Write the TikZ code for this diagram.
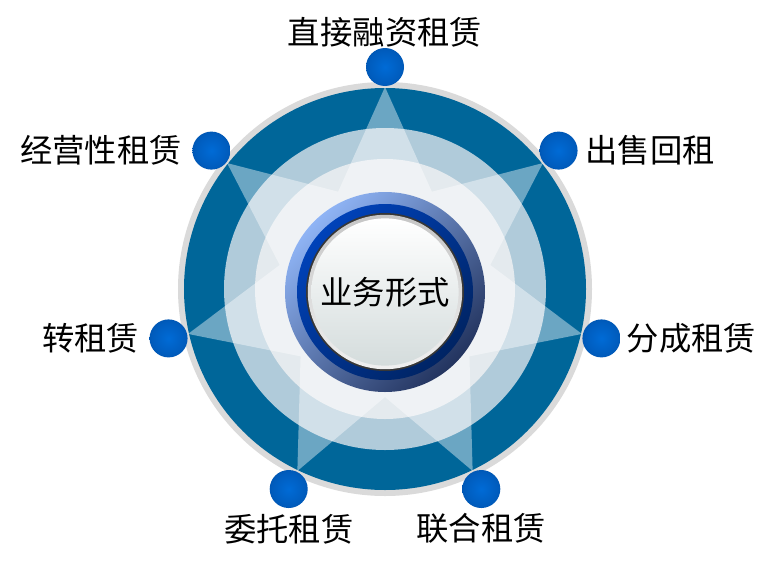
\documentclass[tikz,border=0pt]{standalone}
\usepackage{fontspec}
\newfontfamily\cjk{Noto Sans CJK SC}
\usepackage{tikz}
\usetikzlibrary{positioning, shadings}
\definecolor{ringgrey}{RGB}{218,218,218}
\definecolor{ringdark}{RGB}{0,102,153}
\definecolor{ringmid}{RGB}{176,203,218}
\definecolor{ringlight}{RGB}{228,234,238}
\definecolor{knoblight}{RGB}{143,180,245}
\definecolor{knobmid}{RGB}{40,88,210}
\definecolor{knobdark}{RGB}{35,52,95}
\definecolor{knobinner}{RGB}{0,66,185}
\definecolor{knobinnerdark}{RGB}{0,36,100}
\definecolor{rimdark}{RGB}{55,55,55}
\definecolor{buttonlow}{RGB}{212,220,220}
\pgfdeclareradialshading{dotglow}{\pgfpoint{0bp}{0bp}}{rgb(0bp)=(0,0.42,0.84); rgb(22bp)=(0,0.36,0.74); rgb(50bp)=(0,0.22,0.50)}

\tikzset{
  dotball/.style={circle, minimum size=0.95cm, inner sep=0pt, shading=dotglow},
  leaselabel/.style={inner sep=0pt, font=\cjk\fontsize{23}{27}\selectfont},
}

\begin{document}
\begin{tikzpicture}
        % Canvas
        \fill[white] (-9.625,-7.0) rectangle (9.725,7.225);
        \useasboundingbox (-9.625,-7.0) rectangle (9.725,7.225);

        % Rings
        \fill[ringgrey] (0,0) circle (5.175);
        \fill[ringdark] (0,0) circle (5.025);
        \fill[ringmid] (0,0) circle (4.025);
        \fill[ringlight] (0,0) circle (3.25);

        % Seven-pointed star
        \fill[white, opacity=0.42] (90:5.05) \foreach \k in {1,...,7} { -- ({90+(\k-0.5)*360/7}:2.7) -- ({90+\k*360/7}:5.05) } -- cycle;

        % Center knob
        \shade[top color=knoblight, middle color=knobmid, bottom color=knobdark, shading angle=45] (0,-0.075) circle (2.5);
        \shade[top color=knobinner, bottom color=knobinnerdark, shading angle=45] (0,-0.075) circle (2.2);
        \fill[rimdark] (0,-0.075) circle (1.975);
        \shade[top color=gray!45, bottom color=gray!12] (0,-0.075) circle (1.93);
        \shade[top color=white, bottom color=buttonlow] (0,-0.075) circle (1.84);
        \node[leaselabel] (yewu) at (0,-0.075) {业务形式};

        % Dots on the star tips
        \node[dotball] (zhijie) at (90:5.55) {};
        \node[dotball] (shouhou) at (38.57:5.55) {};
        \node[dotball] (fencheng) at (-12.86:5.55) {};
        \node[dotball] (lianhe) at (-64.29:5.55) {};
        \node[dotball] (weituo) at (-115.71:5.55) {};
        \node[dotball] (zhuanzu) at (-167.14:5.55) {};
        \node[dotball] (jingying) at (141.43:5.55) {};

        % Labels
        \node[leaselabel, above=0pt of zhijie] (zhijie-text) {直接融资租赁};
        \node[leaselabel, right=0.18cm of shouhou] (shouhou-text) {出售回租};
        \node[leaselabel, right=0.15cm of fencheng] (fencheng-text) {分成租赁};
        \node[leaselabel, below=0.12cm of lianhe] (lianhe-text) {联合租赁};
        \node[leaselabel, below=0.15cm of weituo] (weituo-text) {委托租赁};
        \node[leaselabel, left=0.25cm of zhuanzu] (zhuanzu-text) {转租赁};
        \node[leaselabel, left=0.25cm of jingying] (jingying-text) {经营性租赁};
\end{tikzpicture}
\end{document}
